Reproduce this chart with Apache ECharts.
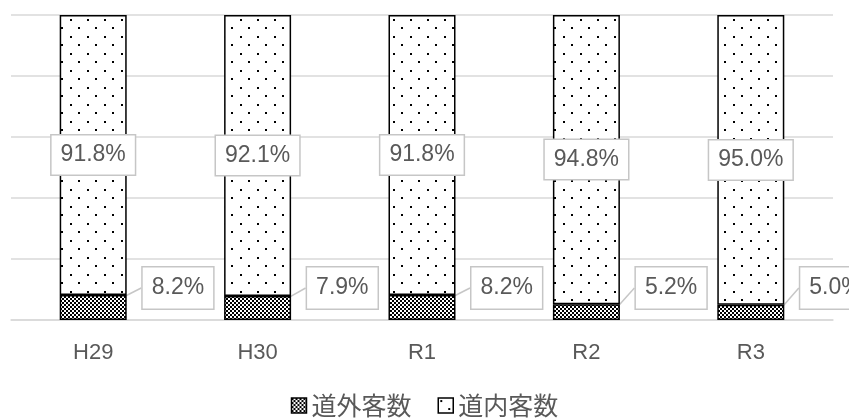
<!DOCTYPE html>
<html>
<head>
<meta charset="utf-8">
<script src="https://cdn.jsdelivr.net/npm/echarts@6/dist/echarts.min.js"></script>
<style>
  html, body { margin: 0; padding: 0; background: #fff; }
  #chart { width: 849px; height: 419px; }
</style>
</head>
<body>
<div id="chart"></div>
<script>
const categories = ['H29', 'H30', 'R1', 'R2', 'R3']
const outsideShare = [8.2, 7.9, 8.2, 5.2, 5.0]   // 道外客数
const insideShare = [91.8, 92.1, 91.8, 94.8, 95.0] // 道内客数
const seriesNames = ['道外客数', '道内客数']

// fill patterns like the office chart: fine checkerboard and sparse dots
function checkerTile() {
    const c = document.createElement('canvas')
    c.width = 4
    c.height = 4
    const ctx = c.getContext('2d')
    ctx.fillStyle = '#fff'
    ctx.fillRect(0, 0, 4, 4)
    ctx.fillStyle = '#000'
    ctx.fillRect(0, 0, 2, 2)
    ctx.fillRect(2, 2, 2, 2)
    return c
}

function dotTile() {
    const c = document.createElement('canvas')
    c.width = 17
    c.height = 17
    const ctx = c.getContext('2d')
    ctx.fillStyle = '#fff'
    ctx.fillRect(0, 0, 17, 17)
    ctx.fillStyle = '#000'
    ctx.fillRect(2, 2, 2, 2)
    ctx.fillRect(10, 10, 2, 2)
    return c
}

const checker = { image: checkerTile(), repeat: 'repeat' }
const dots = { image: dotTile(), repeat: 'repeat' }

const textColor = '#595959'
const boxBorder = '#c6c6c6'
const font = '"Liberation Sans", "Noto Sans CJK JP", sans-serif'

const chart = echarts.init(document.getElementById('chart'))
chart.setOption({
    animation: false,
    textStyle: { fontFamily: font },
    grid: { left: 11, right: 16, top: 15, bottom: 99 },
    legend: {
        top: 388,
        left: 'center',
        itemWidth: 15,
        itemHeight: 15,
        itemGap: 26,
        icon: 'rect',
        textStyle: { color: textColor, fontSize: 25, fontFamily: '"Noto Sans CJK JP", sans-serif' },
        data: seriesNames.map(name => ({ name: name, itemStyle: { borderColor: '#000', borderWidth: 1.5 } })),
    },
    xAxis: {
        type: 'category',
        data: categories,
        axisTick: { show: false },
        axisLine: { lineStyle: { color: '#d9d9d9', width: 1.5 } },
        axisLabel: { color: textColor, fontSize: 22, margin: 22 },
    },
    yAxis: {
        type: 'value',
        min: 0,
        max: 100,
        interval: 20,
        axisLabel: { show: false },
        axisLine: { show: false },
        axisTick: { show: false },
        splitLine: { lineStyle: { color: '#d9d9d9', width: 1.5 } },
    },
    series: [{
        name: seriesNames[0],
        type: 'bar',
        stack: 'share',
        barWidth: 67,
        data: outsideShare,
        itemStyle: { color: checker, borderColor: '#000', borderWidth: 1.5 },
        label: {
            show: true,
            position: 'right',
            formatter: p => p.value.toFixed(1) + '%',
            color: textColor,
            fontSize: 23,
            lineHeight: 23,
            backgroundColor: '#fff',
            borderColor: boxBorder,
            borderWidth: 1.5,
            padding: [9, 9],
        },
        labelLine: {
            show: true,
            lineStyle: { color: boxBorder, width: 1.5 },
        },
        labelLayout: p => ({
            x: p.rect.x + p.rect.width + 16,
            y: p.rect.y + p.rect.height - 32,
            align: 'left',
            verticalAlign: 'middle',
        }),
    }, {
        name: seriesNames[1],
        type: 'bar',
        stack: 'share',
        barWidth: 67,
        data: insideShare,
        itemStyle: { color: dots, borderColor: '#000', borderWidth: 1.5 },
        label: {
            show: true,
            position: 'inside',
            formatter: p => p.value.toFixed(1) + '%',
            color: textColor,
            fontSize: 23,
            lineHeight: 23,
            backgroundColor: '#fff',
            borderColor: boxBorder,
            borderWidth: 1.5,
            padding: [8, 9],
        },
    }],
})
</script>
</body>
</html>
